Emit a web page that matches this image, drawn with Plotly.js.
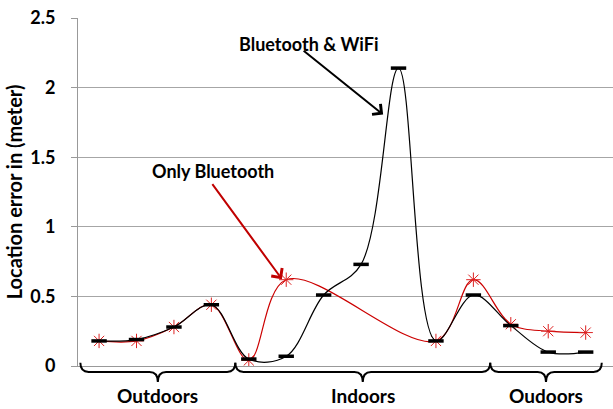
<!DOCTYPE html>
<html>
<head>
<meta charset="utf-8">
<script src="https://cdn.plot.ly/plotly-3.0.1.min.js"></script>
<style>html,body{margin:0;padding:0;background:#fff;}#chart{width:613px;height:409px;}</style>
</head>
<body>
<div id="chart"></div>
<script>
// Data
var positions = [0, 1, 2, 3, 4, 5, 6, 7, 8, 9, 10, 11, 12, 13];
var wifiBluetooth = [0.18, 0.19, 0.28, 0.44, 0.05, 0.07, 0.51, 0.73, 2.14, 0.18, 0.51, 0.29, 0.10, 0.10];
var onlyBluetooth = [0.18, 0.18, 0.28, 0.44, 0.04, 0.62, null, null, null, 0.18, 0.62, 0.30, 0.25, 0.24];
var yTicks = [0, 0.5, 1, 1.5, 2, 2.5];
var yTickLabels = ['0', '0.5', '1', '1.5', '2', '2.5'];
var groupNames = ['Outdoors', 'Indoors', 'Oudoors'];
var groupBounds = [[-0.5, 3.64], [3.64, 10.45], [10.45, 13.43]];

var FONT = 'Lato, "Open Sans", sans-serif';

var traces = [
  {
    x: positions, y: onlyBluetooth, type: 'scatter', mode: 'lines+markers',
    name: 'Only Bluetooth', connectgaps: true,
    line: {color: '#cc0000', width: 1.2, shape: 'spline', smoothing: 1},
    marker: {symbol: 'asterisk-open', size: 12, color: '#dd2222', line: {color: '#dd2222', width: 1}}
  },
  {
    x: positions, y: wifiBluetooth, type: 'scatter', mode: 'lines+markers',
    name: 'Bluetooth & WiFi',
    line: {color: '#000000', width: 1.2, shape: 'spline', smoothing: 1},
    marker: {symbol: 'line-ew', size: 11, color: '#000', line: {color: '#000000', width: 3.5}}
  }
];

// curly braces under the axis
function bracePath(x0, x1) {
  var xc = (x0 + x1) / 2, r = 0.22;
  var yT = 0.009, yM = -0.017, yB = -0.046;
  return 'M' + x0 + ',' + yT +
    ' Q' + x0 + ',' + yM + ' ' + (x0 + r) + ',' + yM +
    ' L' + (xc - r) + ',' + yM +
    ' Q' + xc + ',' + yM + ' ' + xc + ',' + yB +
    ' Q' + xc + ',' + yM + ' ' + (xc + r) + ',' + yM +
    ' L' + (x1 - r) + ',' + yM +
    ' Q' + x1 + ',' + yM + ' ' + x1 + ',' + yT;
}
var shapes = groupBounds.map(function (b) {
  return {type: 'path', xref: 'x', yref: 'paper', path: bracePath(b[0], b[1]),
          line: {color: '#000', width: 2}};
});

var annotations = groupNames.map(function (n, i) {
  var b = groupBounds[i];
  return {xref: 'x', yref: 'paper', x: (b[0] + b[1]) / 2, y: -0.085, text: n,
          showarrow: false, yanchor: 'middle',
          font: {family: FONT, size: 19, color: '#000', weight: 'bold'}};
});
annotations.push(
  {xref: 'x', yref: 'y', x: 5.613, y: 2.313, text: 'Bluetooth &amp; WiFi', showarrow: false,
   font: {family: FONT, size: 18, color: '#000', weight: 'bold'}},
  {xref: 'x', yref: 'y', x: 3.05, y: 1.403, text: 'Only Bluetooth', showarrow: false,
   font: {family: FONT, size: 18, color: '#000', weight: 'bold'}},
  {xref: 'x', yref: 'y', x: 7.589, y: 1.806, ax: -81, ay: -65, text: ' ', showarrow: true,
   arrowhead: 4, arrowsize: 1.3, arrowwidth: 2, arrowcolor: '#000', font: {size: 1}},
  {xref: 'x', yref: 'y', x: 4.884, y: 0.624, ax: -71, ay: -97, text: ' ', showarrow: true,
   arrowhead: 4, arrowsize: 1.3, arrowwidth: 2, arrowcolor: '#c00000', font: {size: 1}}
);

var layout = {
  width: 613, height: 409,
  margin: {l: 78, r: 0, t: 18, b: 43, pad: 0},
  paper_bgcolor: '#fff', plot_bgcolor: '#fff',
  showlegend: false,
  font: {family: FONT, color: '#000'},
  xaxis: {
    range: [-0.563, 13.73], showgrid: false, zeroline: false,
    showline: true, linecolor: '#999', linewidth: 1,
    showticklabels: false, ticks: ''
  },
  yaxis: {
    range: [0, 2.5], tickvals: yTicks, ticktext: yTickLabels,
    showgrid: true, gridcolor: '#a6a6a6', gridwidth: 1,
    zeroline: false, showline: true, linecolor: '#999', linewidth: 1,
    ticks: 'outside', ticklen: 6, tickcolor: '#999', ticklabelstandoff: 12,
    tickfont: {family: FONT, size: 18, color: '#000', weight: 'bold'},
    title: {text: 'Location error in (meter)', standoff: 2,
            font: {family: FONT, size: 20, color: '#000', weight: 'bold'}}
  },
  shapes: shapes,
  annotations: annotations
};

Plotly.newPlot('chart', traces, layout, {displayModeBar: false, staticPlot: true});
</script>
</body>
</html>
